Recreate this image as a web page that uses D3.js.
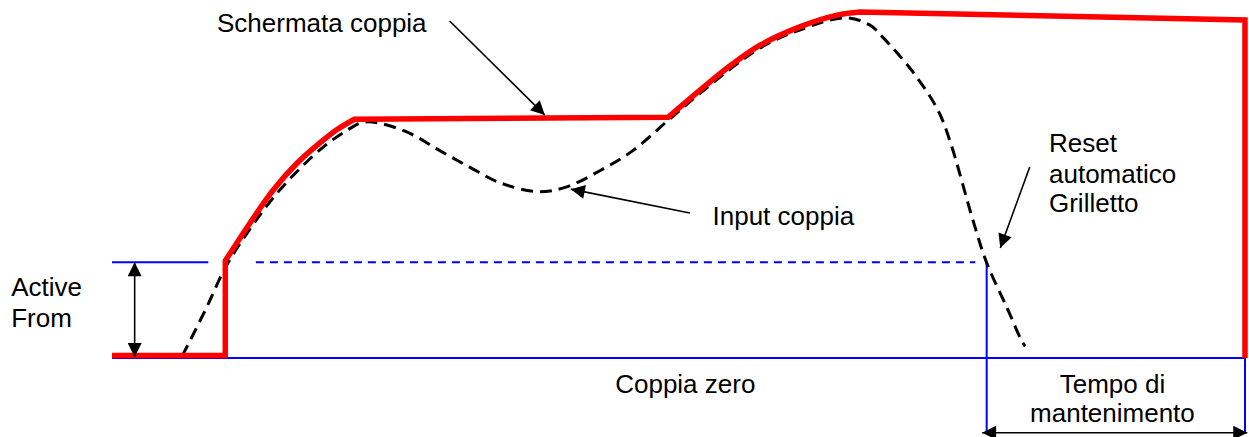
<!DOCTYPE html>
<html>
<head>
<meta charset="utf-8">
<script src="https://cdn.jsdelivr.net/npm/d3@7"></script>
<style>
  body { margin: 0; background: #fff; }
  svg { display: block; }
  text { font-family: Arial, "Liberation Sans", sans-serif; font-size: 26px; fill: #000; }
</style>
</head>
<body>
<svg id="chart" width="1249" height="437"></svg>
<script>
// Peak-hold torque shown on screen (red line): time, torque
const peakTime   = [0, 10, 10, 12.2, 14.2, 16.3, 18.4, 19.9, 21.4, 49.1, 51.9, 54.5, 57.2, 60.7, 64.0, 66.0, 100, 100];
const peakTorque = [0.7, 0.7, 28.1, 39.1, 48.4, 56.2, 62.3, 66.1, 69.0, 69.6, 77.4, 84.3, 90.4, 95.7, 99.1, 100, 97.7, 0];
// which stretches of the red line are smooth curves (index ranges)
const peakSmooth = [[2, 8], [9, 15]];

// Torque input (dashed black curve)
const inputTime   = [6.2, 8.2, 10.1, 12.2, 14.4, 16.6, 18.8, 20.6, 22.1, 23.7, 26.3, 28.9, 31.6, 34.2, 37.5, 40.0, 43.1, 46.0, 49.1, 51.9, 57.2, 60.7, 64.7, 66.9, 68.0, 70.7, 72.9, 74.0, 76.0, 77.2, 79.0, 80.3, 80.6];
const inputTorque = [0.6, 13.6, 26.7, 37.4, 47.0, 54.8, 61.4, 65.5, 68.1, 67.8, 64.9, 60.0, 55.1, 50.7, 48.1, 49.3, 54.2, 60.0, 68.7, 76.5, 89.6, 94.8, 98.3, 96.2, 92.8, 82.6, 71.6, 62.3, 39.7, 27.5, 14.5, 4.9, 3.4];

// Activation threshold ("Active From") and reset / hold times
const threshold = 27.7;
const resetTime = 77.2;
const holdEnd = 100;

const svg = d3.select('#chart');

// Scales: time 0..100, torque 0..100
const x = d3.scaleLinear().domain([0, 100]).range([112, 1245]);
const y = d3.scaleLinear().domain([0, 100]).range([358, 12]);

// Arrow head marker
svg.append('defs')
   .append('marker')
   .attr('id', 'head')
   .attr('viewBox', '0 0 10 10')
   .attr('markerUnits', 'userSpaceOnUse')
   .attr('markerWidth', 15)
   .attr('markerHeight', 14)
   .attr('refX', 10)
   .attr('refY', 5)
   .attr('orient', 'auto-start-reverse')
   .append('path')
   .attr('d', 'M0,0 L10,5 L0,10 Z')
   .attr('fill', '#000');

const blueLine = (t0, v0, t1, v1, dash) => {
   svg.append('line')
      .attr('x1', x(t0)).attr('y1', y(v0))
      .attr('x2', x(t1)).attr('y2', y(v1))
      .attr('stroke', '#0000ff')
      .attr('stroke-width', 2)
      .attr('stroke-dasharray', dash || null);
};

// zero torque line
blueLine(0, 0, holdEnd, 0);
// threshold: solid part at the left, dashed across
blueLine(0, threshold, 8.5, threshold);
blueLine(12.7, threshold, 76.2, threshold, '8,6');
// hold time markers
blueLine(resetTime, threshold, resetTime, -21.4);
blueLine(holdEnd, 0, holdEnd, -21.4);

// Input torque (dashed)
const inputLine = d3.line()
                    .x(d => x(d[0]))
                    .y(d => y(d[1]))
                    .curve(d3.curveCatmullRom);

svg.append('path')
   .datum(d3.zip(inputTime, inputTorque))
   .attr('d', inputLine)
   .attr('fill', 'none')
   .attr('stroke', '#000')
   .attr('stroke-width', 3)
   .attr('stroke-dasharray', '12,7');

// Displayed peak torque (red): straight pieces joined with smooth pieces
const peakPts = d3.zip(peakTime, peakTorque);
const straight = d3.line().x(d => x(d[0])).y(d => y(d[1]));
const smooth = d3.line().x(d => x(d[0])).y(d => y(d[1])).curve(d3.curveCatmullRom);

let pathD = '';
let from = 0;
peakSmooth.forEach(([a, b]) => {
   if (a > from) pathD += straight(peakPts.slice(from, a + 1)).replace(/^M/, pathD ? 'L' : 'M');
   pathD += smooth(peakPts.slice(a, b + 1)).replace(/^M/, pathD ? 'L' : 'M');
   from = b;
});
pathD += straight(peakPts.slice(from)).replace(/^M/, 'L');

svg.append('path')
   .attr('d', pathD)
   .attr('fill', 'none')
   .attr('stroke', '#ff0000')
   .attr('stroke-width', 5.5)
   .attr('stroke-linejoin', 'miter');

// Annotation arrows [t0, v0, t1, v1, double]
const arrows = [
   [29.8, 97.4, 38.2, 70.2, false],
   [51.0, 41.9, 40.5, 48.8, false],
   [81.0, 55.2, 78.4, 31.8, false],
   [2.0, 0.3, 2.0, threshold, true],
   [76.8, -21.6, 100.2, -21.6, true]
];

svg.selectAll('.arrow')
   .data(arrows)
   .enter()
   .append('line')
   .attr('class', 'arrow')
   .attr('x1', d => x(d[0])).attr('y1', d => y(d[1]))
   .attr('x2', d => x(d[2])).attr('y2', d => y(d[3]))
   .attr('stroke', '#000')
   .attr('stroke-width', 1.6)
   .attr('marker-end', 'url(#head)')
   .attr('marker-start', d => d[4] ? 'url(#head)' : null);

// Labels [text, t, v, anchor]
const labels = [
   ['Schermata coppia', 9.27, 94.2, 'start'],
   ['Input coppia', 53.0, 38.4, 'start'],
   ['Reset', 82.7, 59.5, 'start'],
   ['automatico', 82.7, 50.6, 'start'],
   ['Grilletto', 82.7, 42.2, 'start'],
   ['Active', -8.9, 17.9, 'start'],
   ['From', -8.9, 9.0, 'start'],
   ['Coppia zero', 50.6, -10.1, 'middle'],
   ['Tempo di', 88.3, -10.1, 'middle'],
   ['mantenimento', 88.3, -18.5, 'middle']
];

svg.selectAll('.label')
   .data(labels)
   .enter()
   .append('text')
   .attr('class', 'label')
   .attr('x', d => x(d[1]))
   .attr('y', d => y(d[2]))
   .attr('text-anchor', d => d[3])
   .text(d => d[0]);
</script>
</body>
</html>
